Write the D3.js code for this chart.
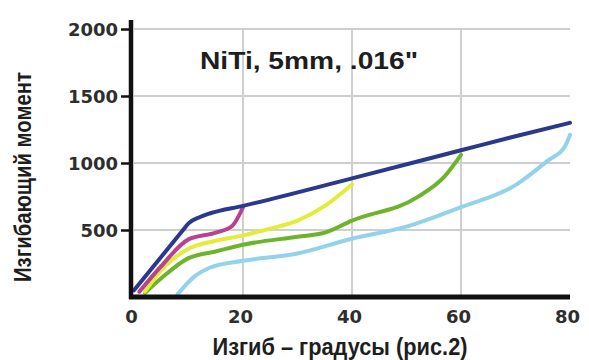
<!DOCTYPE html>
<html lang="ru">
<head>
<meta charset="utf-8">
<title>NiTi, 5mm, .016"</title>
<script src="https://cdn.jsdelivr.net/npm/d3@7"></script>
<style>
  body { margin: 0; background: #fff; }
  svg { display: block; }
  .tick text { font-family: "DejaVu Sans", sans-serif; font-weight: bold; font-size: 18px; fill: #2e2e2e; }
  .lbl { font-family: "Liberation Sans", Arial, sans-serif; font-weight: bold; fill: #1e1e1e; }
</style>
</head>
<body>
<script>
// data (degrees, moment)
var xTicks = [0, 20, 40, 60, 80];
var yTicks = [500, 1000, 1500, 2000];

var navyX = [0, 9, 10, 12, 14, 20, 40, 60, 70, 80];
var navyY = [50, 500, 550, 595, 625, 680, 885, 1095, 1200, 1300];

var pinkX = [1, 5, 10, 15, 18, 20];
var pinkY = [40, 230, 430, 480, 530, 670];

var yellowX = [2, 5, 10, 15, 20, 25, 30, 35, 40];
var yellowY = [40, 200, 360, 420, 460, 510, 570, 680, 840];

var greenX = [2, 5, 10, 15, 20, 30, 35, 40, 52, 57, 60];
var greenY = [30, 140, 290, 340, 390, 450, 480, 570, 745, 900, 1060];

var blueX = [8, 11, 14, 20, 30, 40, 50, 60, 70, 76, 79, 80];
var blueY = [20, 150, 220, 270, 325, 435, 525, 670, 835, 1020, 1120, 1210];

var series = [
  { xs: blueX, ys: blueY, color: "#92d2ec" },
  { xs: greenX, ys: greenY, color: "#6db42c" },
  { xs: yellowX, ys: yellowY, color: "#e4ec3a" },
  { xs: pinkX, ys: pinkY, color: "#b8428f" },
  { xs: navyX, ys: navyY, color: "#2c388e" }
];

var w = 589, h = 360;

var x = d3.scaleLinear().domain([0, 80]).range([134, 570]);
var y = d3.scaleLinear().domain([0, 2000]).range([297, 29]);

var svg = d3.select("body").append("svg")
  .attr("width", w)
  .attr("height", h);

// grid
svg.append("g").selectAll("line")
  .data(yTicks).enter().append("line")
  .attr("x1", x(0)).attr("x2", x(80))
  .attr("y1", d => y(d)).attr("y2", d => y(d))
  .attr("stroke", "#cfcfcf").attr("stroke-width", 2);

svg.append("g").selectAll("line")
  .data([20, 40, 60]).enter().append("line")
  .attr("x1", d => x(d)).attr("x2", d => x(d))
  .attr("y1", y(2000)).attr("y2", y(0))
  .attr("stroke", "#cfcfcf").attr("stroke-width", 2);

// curves
var line = d3.line()
  .x(d => x(d[0]))
  .y(d => y(d[1]))
  .curve(d3.curveMonotoneX);

series.forEach(function(s) {
  svg.append("path")
    .datum(d3.zip(s.xs, s.ys))
    .attr("d", line)
    .attr("fill", "none")
    .attr("stroke", s.color)
    .attr("stroke-width", 4)
    .attr("stroke-linejoin", "round")
    .attr("stroke-linecap", "round");
});

// axes
var yAxis = svg.append("g")
  .attr("transform", "translate(" + (x(0) - 4) + ",0)")
  .call(d3.axisLeft(y).tickValues(yTicks).tickFormat(d3.format("d"))
    .tickSize(9).tickPadding(3).tickSizeOuter(0));
yAxis.select(".domain").remove();
yAxis.selectAll(".tick line").attr("stroke", "#111").attr("stroke-width", 2.5);
yAxis.selectAll(".tick text").attr("dy", "0.36em");

svg.append("line")
  .attr("x1", x(0) - 3).attr("x2", x(0) - 3)
  .attr("y1", 20).attr("y2", y(0) + 2)
  .attr("stroke", "#111").attr("stroke-width", 4.5);

svg.append("line")
  .attr("x1", x(0) - 5).attr("x2", x(80))
  .attr("y1", y(0)).attr("y2", y(0))
  .attr("stroke", "#111").attr("stroke-width", 5);

var xAxis = svg.append("g")
  .attr("transform", "translate(-3," + y(0) + ")")
  .call(d3.axisBottom(x).tickValues(xTicks).tickSize(0).tickPadding(13));
xAxis.select(".domain").remove();

// title
svg.append("text")
  .attr("class", "lbl")
  .attr("x", 309).attr("y", 69)
  .attr("text-anchor", "middle")
  .attr("textLength", 218)
  .attr("lengthAdjust", "spacingAndGlyphs")
  .style("font-size", "24px")
  .text("NiTi, 5mm, .016\"");

svg.append("text")
  .attr("class", "lbl")
  .attr("x", 340).attr("y", 355)
  .attr("text-anchor", "middle")
  .attr("textLength", 255)
  .attr("lengthAdjust", "spacingAndGlyphs")
  .style("font-size", "24px")
  .text("Изгиб – градусы (рис.2)");

svg.append("text")
  .attr("class", "lbl")
  .attr("transform", "translate(31,177) rotate(-90)")
  .attr("text-anchor", "middle")
  .attr("textLength", 210)
  .attr("lengthAdjust", "spacingAndGlyphs")
  .style("font-size", "24px")
  .text("Изгибающий момент");
</script>
</body>
</html>
